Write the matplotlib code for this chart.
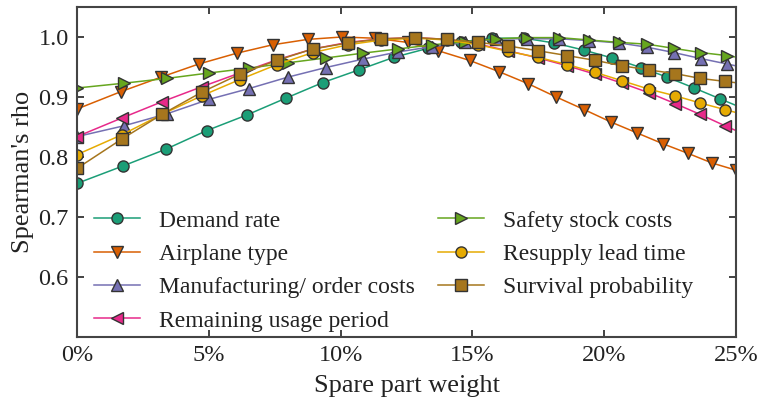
import matplotlib
matplotlib.use("Agg")
import matplotlib.pyplot as plt
from matplotlib.ticker import PercentFormatter

plt.rcParams['font.family'] = ['Liberation Serif', 'DejaVu Serif']

# spare part weight (%) at which each factor was evaluated
x_demand = [0.0, 1.74, 3.37, 4.92, 6.44, 7.92, 9.32, 10.68, 12.01, 13.30, 14.58,
            15.76, 16.97, 18.11, 19.24, 20.30, 21.40, 22.39, 23.41, 24.39, 25.38]
x_airplane = [0.0, 1.67, 3.18, 4.62, 6.06, 7.42, 8.75, 10.04, 11.29, 12.54, 13.71,
              14.89, 16.02, 17.12, 18.18, 19.24, 20.27, 21.25, 22.23, 23.18, 24.09, 25.0]
x_cost = [0.0, 1.78, 3.41, 5.0, 6.52, 7.99, 9.43, 10.83, 12.16, 13.48, 14.73,
          15.91, 17.08, 18.30, 19.43, 20.57, 21.63, 22.65, 23.67, 24.66, 25.64]
x_time = [0.0, 1.70, 3.22, 4.73, 6.17, 7.58, 8.94, 10.27, 11.55, 12.84, 14.05,
          15.23, 16.36, 17.5, 18.6, 19.66, 20.68, 21.70, 22.69, 23.64, 24.58, 25.53]

# Spearman's rho per factor
demand = [0.756, 0.785, 0.813, 0.844, 0.870, 0.898, 0.924, 0.945, 0.966, 0.981, 0.992,
          0.998, 0.998, 0.990, 0.978, 0.965, 0.949, 0.933, 0.915, 0.897, 0.879]
airplane = [0.880, 0.909, 0.933, 0.955, 0.973, 0.987, 0.996, 1.000, 0.998, 0.991, 0.977,
            0.961, 0.942, 0.922, 0.900, 0.879, 0.858, 0.840, 0.822, 0.806, 0.790, 0.778]
manufacturing = [0.834, 0.852, 0.872, 0.896, 0.914, 0.933, 0.949, 0.963, 0.975, 0.984, 0.991,
                 0.997, 0.997, 0.997, 0.994, 0.990, 0.983, 0.974, 0.964, 0.955, 0.946]
remaining = [0.834, 0.865, 0.892, 0.917, 0.940, 0.962, 0.980, 0.991, 0.997, 0.999, 0.996,
             0.988, 0.977, 0.965, 0.952, 0.938, 0.923, 0.907, 0.889, 0.871, 0.852, 0.834]
safety = [0.915, 0.923, 0.931, 0.940, 0.948, 0.957, 0.965, 0.973, 0.980, 0.987, 0.992,
          0.997, 0.999, 0.999, 0.995, 0.991, 0.988, 0.981, 0.974, 0.969, 0.962]
resupply = [0.804, 0.837, 0.871, 0.902, 0.929, 0.954, 0.974, 0.987, 0.995, 0.998, 0.995,
            0.987, 0.976, 0.966, 0.954, 0.941, 0.927, 0.913, 0.902, 0.890, 0.879, 0.868]
survival = [0.781, 0.830, 0.871, 0.908, 0.938, 0.961, 0.980, 0.990, 0.997, 0.999, 0.996,
            0.991, 0.985, 0.977, 0.969, 0.961, 0.952, 0.945, 0.939, 0.931, 0.926, 0.921]

series = [
    ("Demand rate", x_demand, demand, "o", "#1b9e77"),
    ("Airplane type", x_airplane, airplane, "v", "#d95f02"),
    ("Manufacturing/ order costs", x_cost, manufacturing, "^", "#7570b3"),
    ("Remaining usage period", x_time, remaining, "<", "#e7298a"),
    ("Safety stock costs", x_cost, safety, ">", "#66a61e"),
    ("Resupply lead time", x_time, resupply, "o", "#e6ab02"),
    ("Survival probability", x_time, survival, "s", "#a6761d"),
]

fig = plt.figure(figsize=(7.61, 4.0), dpi=100)
ax = fig.add_axes([0.1012, 0.1575, 0.8660, 0.8250])

for name, xs, ys, m, c in series:
    ax.plot(xs, ys, marker=m, color=c, label=name, lw=1.1, ms=8,
            mec="#333333", mew=1.0)

ax.set_xlim(0, 25)
ax.set_ylim(0.5, 1.05)
ax.set_xticks([0, 5, 10, 15, 20, 25])
ax.set_yticks([0.6, 0.7, 0.8, 0.9, 1.0])
ax.xaxis.set_major_formatter(PercentFormatter(decimals=0))
ax.tick_params(direction="in", top=True, right=True, length=5, width=1.2,
               labelsize=17.5, colors="#222222", pad=6)
for sp in ax.spines.values():
    sp.set_color("#444444")
    sp.set_linewidth(1.5)

ax.set_xlabel("Spare part weight", fontsize=19, color="#222222", labelpad=6)
ax.set_ylabel("Spearman's rho", fontsize=19, color="#222222", labelpad=3)

ax.legend(loc="lower left", bbox_to_anchor=(0.011, -0.012), ncol=2, frameon=False,
          fontsize=17, numpoints=1, handlelength=1.95, handletextpad=0.8,
          columnspacing=1.0, labelspacing=0.5, borderaxespad=0.0, borderpad=0.4,
          labelcolor="#222222")

fig.savefig("out.png", dpi=100)
